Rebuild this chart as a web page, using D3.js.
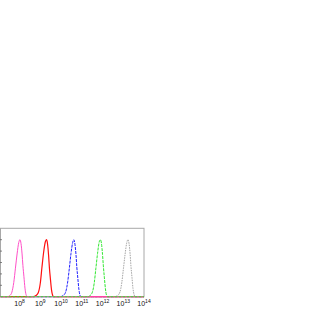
<!DOCTYPE html>
<html>
<head>
<meta charset="utf-8">
<script src="https://cdn.jsdelivr.net/npm/d3@7"></script>
<style>
body { margin: 0; background: #fff; }
</style>
</head>
<body>
<script>
// x tick exponents (10^n) and y ticks
var decades = [8, 9, 10, 11, 12, 13, 14];
var yTicks = [20, 40, 60, 80, 100];

// histogram points: [log10 intensity, count]
var pink  = [[7.08,0],[7.41,0],[7.53,2],[7.63,8],[7.72,25],[7.80,50],[7.88,75],[7.96,95],[8.02,100],[8.07,93],[8.12,75],[8.16,55],[8.21,35],[8.26,15],[8.31,4],[8.37,0],[14,0]];
var red   = [[7.08,0],[8.66,0],[8.79,2],[8.90,7],[9.00,24],[9.08,52],[9.16,78],[9.24,96],[9.30,100],[9.35,92],[9.40,72],[9.44,50],[9.49,30],[9.54,12],[9.59,3],[9.64,0],[14,0]];
var blue  = [[7.08,0],[9.95,0],[10.10,2],[10.22,8],[10.32,26],[10.40,50],[10.48,76],[10.56,95],[10.62,100],[10.67,92],[10.72,74],[10.76,52],[10.81,32],[10.86,13],[10.91,3],[10.96,0],[14,0]];
var green = [[7.08,0],[11.27,0],[11.40,2],[11.51,8],[11.60,24],[11.68,50],[11.76,76],[11.84,96],[11.90,100],[11.95,93],[12.00,74],[12.04,54],[12.09,33],[12.14,14],[12.19,3],[12.24,0],[14,0]];
var gray  = [[7.08,0],[12.56,0],[12.72,2],[12.84,8],[12.93,25],[13.01,50],[13.09,75],[13.17,95],[13.23,100],[13.28,93],[13.33,75],[13.37,54],[13.42,34],[13.47,14],[13.52,4],[13.57,0],[14,0]];

var series = [
  {data: gray,  color: "#9a9a9a", width: 0.9, dash: "1.5,1"},
  {data: blue,  color: "#2020ff", width: 1,   dash: "3,1"},
  {data: red,   color: "#ff1010", width: 1.2, dash: null},
  {data: pink,  color: "#ff50c8", width: 1,   dash: null},
  {data: green, color: "#30e830", width: 1,   dash: "3,1"}
];

var w = 327, h = 327;
var x0 = 0.5, x1 = 144, y0 = 296.7, y1 = 228.3;

var svg = d3.select("body").append("svg")
    .attr("width", w)
    .attr("height", h);

var x = d3.scaleLog().domain([Math.pow(10, 7.08), 1e14]).range([x0, x1]);
var y = d3.scaleLinear().domain([0, 120]).range([y0, y1]);

// frame
svg.append("rect")
    .attr("x", x0)
    .attr("y", y1)
    .attr("width", x1 - x0)
    .attr("height", y0 - y1)
    .attr("fill", "none")
    .attr("stroke", "#a8a8a8")
    .attr("stroke-width", 1);

// small y ticks on the left edge
svg.selectAll(".yt")
    .data(yTicks)
  .enter().append("line")
    .attr("class", "yt")
    .attr("x1", 0)
    .attr("x2", 2)
    .attr("y1", function(d) { return y(d); })
    .attr("y2", function(d) { return y(d); })
    .attr("stroke", "#666")
    .attr("stroke-width", 0.8);

var line = d3.line()
    .x(function(d) { return x(Math.pow(10, d[0])); })
    .y(function(d) { return y(d[1]); })
    .curve(d3.curveMonotoneX);

svg.selectAll(".hist")
    .data(series)
  .enter().append("path")
    .attr("class", "hist")
    .attr("d", function(s) { return line(s.data); })
    .attr("fill", "none")
    .attr("stroke", function(s) { return s.color; })
    .attr("stroke-width", function(s) { return s.width; })
    .attr("stroke-dasharray", function(s) { return s.dash; });

// x labels 10^n
var lab = svg.selectAll(".xl")
    .data(decades)
  .enter().append("text")
    .attr("class", "xl")
    .attr("x", function(d) { return x(Math.pow(10, d)); })
    .attr("y", 306)
    .attr("text-anchor", "middle")
    .style("font-family", "'Liberation Sans', Arial, sans-serif")
    .style("font-size", "7px")
    .attr("fill", "#111");

lab.append("tspan").text("10");
lab.append("tspan")
    .attr("dy", -2.8)
    .style("font-size", "5px")
    .text(function(d) { return d; });
</script>
</body>
</html>
